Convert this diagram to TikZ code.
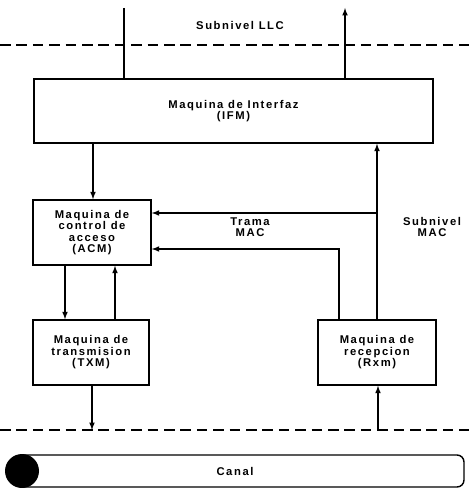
\documentclass[tikz,border=0pt]{standalone}
\usepackage{fontspec}
\newfontfamily\diagfont[LetterSpace=14]{Liberation Sans}
\usetikzlibrary{positioning,arrows}

\begin{document}
\begin{tikzpicture}[
x=0.03cm,y=-0.03cm,
line width=1.2pt,
font=\diagfont\bfseries\fontsize{9.6}{9.8}\selectfont,
maq/.style={
  draw,
  rectangle,
  align=center,
  inner sep=0pt
},
capa/.style={
  dashed,
  dash pattern=on 9pt off 5pt,
  line width=1pt
},
etiq/.style={
  align=center,
  inner sep=1pt
}
]
\useasboundingbox (0,0) rectangle (469,488);

% maquinas
\node[maq,minimum width=399*0.03cm,minimum height=64*0.03cm] at (233.5,111)
  (ifm) {Maquina de Interfaz\\(IFM)};
\node[maq,minimum width=118*0.03cm,minimum height=65*0.03cm] at (92,232.5)
  (acm) {Maquina de\\control de\\acceso\\(ACM)};
\node[maq,minimum width=116*0.03cm,minimum height=65*0.03cm] at (91,352.5)
  (txm) {Maquina de\\transmision\\(TXM)};
\node[maq,minimum width=118*0.03cm,minimum height=65*0.03cm] at (377,352.5)
  (rxm) {Maquina de\\recepcion\\(Rxm)};

% subniveles
\draw[capa] (0,45) -- (469,45);
\draw[capa] (0,430) -- (469,430);
\node[etiq] at (240,25) (llc) {Subnivel LLC};
\node[etiq] at (432,227) (mac) {Subnivel\\MAC};
\node[etiq] at (250,227) (trama) {Trama\\MAC};

% canal
\draw[rounded corners=6pt] (22,455) -- (464,455) -- (464,487) -- (22,487);
\fill (22,471) circle (17);
\node at (235,471) (canal) {Canal};

% puntos de paso
\coordinate (llcin) at (124,8);
\coordinate (llcout) at (345,8);
\coordinate (txmout) at (92,430);
\coordinate (rxmin) at (378,430);
\coordinate (macbus) at (377,213);
\coordinate (rxbus) at (339,249);

% flechas
\draw (llcin) -- (llcin |- ifm.north);
\draw[-latex] (llcout |- ifm.north) -- (llcout);
\draw[-latex] (ifm.south -| 93,0) -- (acm.north -| 93,0);
\draw[-latex] (rxm.north -| macbus) -- (ifm.south -| macbus);
\draw[-latex] (macbus) -- (macbus -| acm.east);
\draw[-latex] (rxm.north -| rxbus) -- (rxbus) -- (rxbus -| acm.east);
\draw[-latex] (acm.south -| 65,0) -- (txm.north -| 65,0);
\draw[-latex] (txm.north -| 115,0) -- (acm.south -| 115,0);
\draw[-latex] (txm.south -| txmout) -- (txmout);
\draw[-latex] (rxmin) -- (rxm.south -| rxmin);
\end{tikzpicture}
\end{document}
